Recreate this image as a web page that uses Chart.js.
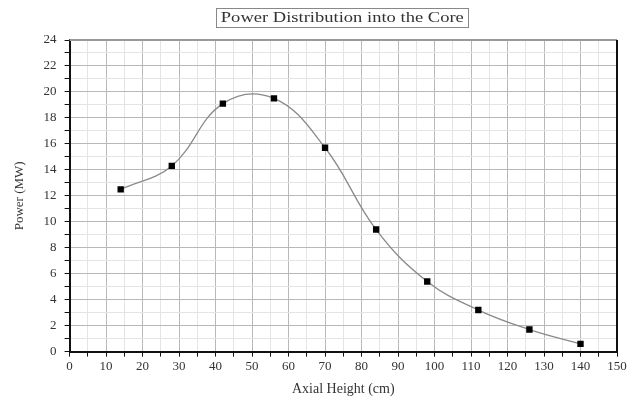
<!DOCTYPE html>
<html>
<head>
<meta charset="utf-8">
<script src="https://cdn.jsdelivr.net/npm/chart.js@4"></script>
<style>
    html, body { margin: 0; padding: 0; background: #fff; }
    #wrap { width: 632px; height: 400px; }
</style>
</head>
<body>
<div id="wrap"><canvas id="chart"></canvas></div>
<script>
// Axial positions (cm) and power (MW)
const heights = [14, 28, 42, 56, 70, 84, 98, 112, 126, 140];
const power = [12.5, 14.3, 19.1, 19.5, 15.7, 9.4, 5.4, 3.2, 1.7, 0.6];

const chartTitle = 'Power Distribution into the Core';
const xTitle = 'Axial Height (cm)';
const yTitle = 'Power (MW)';

const colors = {
    text: '#333',
    axis: '#111',
    major: '#b8b8b8',
    minor: '#e4e4e4',
    line: '#8a8a8a',
    marker: '#000'
};

const serif = "'Liberation Serif', 'DejaVu Serif', serif";

// Draws the boxed title and the top / right frame lines
const framePlugin = {
    id: 'frame',
    afterDraw(chart) {
        const { ctx, chartArea: a } = chart;
        ctx.save();
        ctx.strokeStyle = '#999';
        ctx.lineWidth = 2;
        ctx.beginPath();
        ctx.moveTo(a.left, a.top);
        ctx.lineTo(a.right, a.top);
        ctx.stroke();
        ctx.strokeStyle = colors.axis;
        ctx.beginPath();
        ctx.moveTo(a.right, a.top);
        ctx.lineTo(a.right, a.bottom);
        ctx.stroke();

        // title is a bit wide in the original, stretch it to ~243px
        const cx = (a.left + a.right) / 2 - 1;
        ctx.font = '15px ' + serif;
        ctx.fillStyle = colors.text;
        ctx.textAlign = 'center';
        ctx.textBaseline = 'middle';
        const sx = 243 / ctx.measureText(chartTitle).width;
        ctx.save();
        ctx.translate(cx, 18);
        ctx.scale(sx, 1);
        ctx.fillText(chartTitle, 0, 0);
        ctx.restore();
        ctx.strokeStyle = '#888';
        ctx.lineWidth = 1;
        ctx.strokeRect(Math.round(cx - 126) + 0.5, 8.5, 252, 19);
        ctx.restore();
    }
};

new Chart(document.getElementById('chart'), {
    type: 'line',
    data: {
        datasets: [{
            data: heights.map((h, i) => ({ x: h, y: power[i] })),
            borderColor: colors.line,
            borderWidth: 1.3,
            tension: 0.4,
            pointStyle: 'rect',
            pointRadius: 4.5,
            pointBackgroundColor: colors.marker,
            pointBorderColor: colors.marker,
            pointBorderWidth: 0
        }]
    },
    options: {
        responsive: true,
        maintainAspectRatio: false,
        animation: false,
        layout: { padding: { top: 40, right: 15, left: 12, bottom: 2 } },
        plugins: {
            legend: { display: false },
            tooltip: { enabled: false }
        },
        scales: {
            x: {
                type: 'linear',
                min: 0,
                max: 150,
                ticks: {
                    stepSize: 5,
                    autoSkip: false,
                    maxRotation: 0,
                    color: colors.text,
                    font: { family: serif, size: 13 },
                    padding: 2,
                    callback: v => v % 10 === 0 ? v : ''
                },
                grid: {
                    color: c => c.tick && c.tick.value % 10 === 0 ? colors.major : colors.minor,
                    tickColor: colors.axis,
                    tickLength: 5
                },
                border: { color: colors.axis, width: 2 },
                title: {
                    display: true,
                    text: xTitle,
                    color: colors.text,
                    font: { family: serif, size: 14 },
                    padding: { top: 5, bottom: 0 }
                }
            },
            y: {
                min: 0,
                max: 24,
                ticks: {
                    stepSize: 1,
                    autoSkip: false,
                    color: colors.text,
                    font: { family: serif, size: 13 },
                    padding: 8,
                    callback: v => v % 2 === 0 ? v : ''
                },
                grid: {
                    color: c => c.tick && c.tick.value % 2 === 0 ? colors.major : colors.minor,
                    tickColor: colors.axis,
                    tickLength: 5
                },
                border: { color: colors.axis, width: 2 },
                title: {
                    display: true,
                    text: yTitle,
                    color: colors.text,
                    font: { family: serif, size: 13 },
                    padding: { top: 0, bottom: 8 }
                }
            }
        }
    },
    plugins: [framePlugin]
});
</script>
</body>
</html>
